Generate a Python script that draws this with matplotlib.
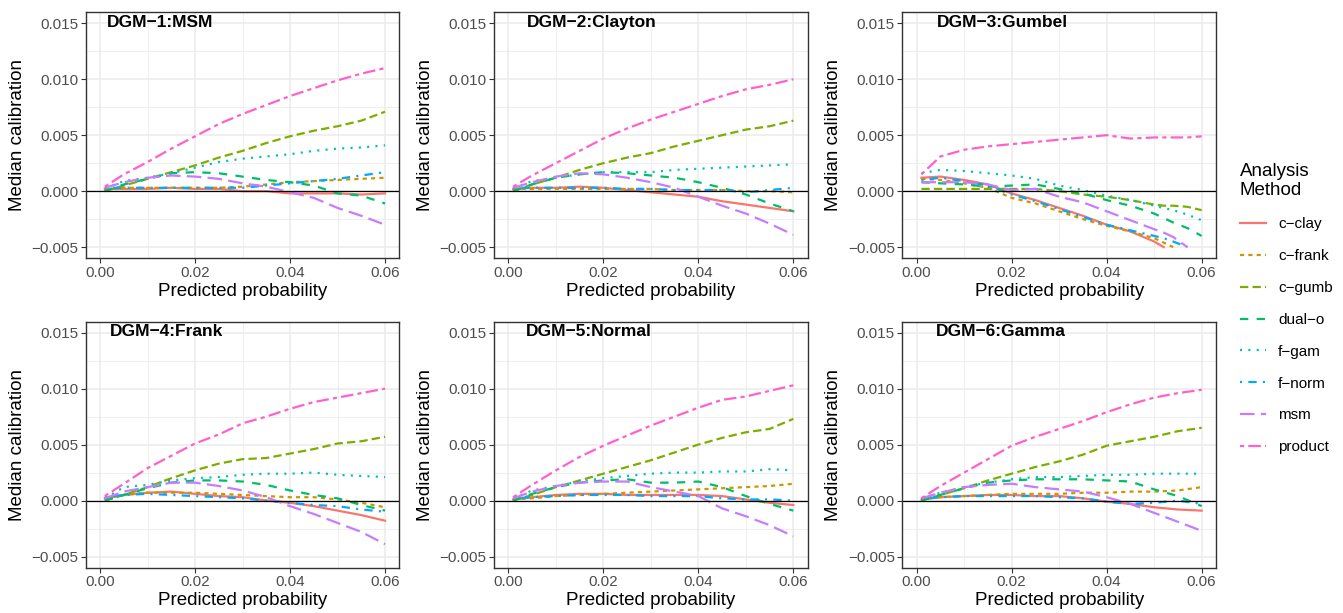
import numpy as np
import matplotlib.pyplot as plt
from matplotlib.lines import Line2D

plt.rcParams['font.family'] = ['Liberation Sans', 'DejaVu Sans']
plt.rcParams['lines.scale_dashes'] = False

methods = ['c-clay', 'c-frank', 'c-gumb', 'dual-o', 'f-gam', 'f-norm', 'msm', 'product']
colors = ['#F8766D', '#CD9600', '#7CAE00', '#00BE67', '#00BFC4', '#00A9FF', '#C77CFF', '#FF61CC']
# ggplot default linetypes: solid, 22, 42, 44, 13, 1343, 73, 2262
linetypes = [None, (2, 2), (4, 2), (4, 4), (1, 3), (1, 3, 4, 3), (7, 3), (2, 2, 6, 2)]

titles = ['DGM\u22121:MSM', 'DGM\u22122:Clayton', 'DGM\u22123:Gumbel',
          'DGM\u22124:Frank', 'DGM\u22125:Normal', 'DGM\u22126:Gamma']

x = [0.001, 0.005, 0.01, 0.015, 0.02, 0.025, 0.03, 0.035, 0.04, 0.045, 0.05, 0.055, 0.06]
x_gumbel = [0.001, 0.005, 0.01, 0.015, 0.02, 0.025, 0.03, 0.035, 0.04, 0.045, 0.05, 0.052, 0.054, 0.057, 0.06]
nan = np.nan

dgm1 = {
    'c-clay':  [0.0002, 0.0002, 0.0002, 0.0003, 0.0002, 0.0002, 0.0000, 0.0000, -0.0002, -0.0002, -0.0002, -0.0003, -0.0002],
    'c-frank': [0.0001, 0.0003, 0.0003, 0.0003, 0.0003, 0.0003, 0.0004, 0.0006, 0.0008, 0.0009, 0.0010, 0.0011, 0.0012],
    'c-gumb':  [0.0000, 0.0005, 0.0011, 0.0017, 0.0023, 0.0030, 0.0036, 0.0043, 0.0049, 0.0054, 0.0058, 0.0063, 0.0071],
    'dual-o':  [0.0000, 0.0006, 0.0011, 0.0016, 0.0017, 0.0016, 0.0013, 0.0010, 0.0008, 0.0005, -0.0002, -0.0004, -0.0011],
    'f-gam':   [0.0002, 0.0009, 0.0012, 0.0016, 0.0021, 0.0026, 0.0029, 0.0031, 0.0033, 0.0036, 0.0038, 0.0039, 0.0041],
    'f-norm':  [0.0003, 0.0003, 0.0003, 0.0003, 0.0003, 0.0003, 0.0003, 0.0005, 0.0007, 0.0009, 0.0011, 0.0014, 0.0017],
    'msm':     [0.0003, 0.0008, 0.0012, 0.0014, 0.0013, 0.0011, 0.0007, 0.0004, -0.0001, -0.0006, -0.0015, -0.0022, -0.0030],
    'product': [0.0004, 0.0015, 0.0026, 0.0038, 0.0049, 0.0060, 0.0069, 0.0077, 0.0085, 0.0092, 0.0099, 0.0105, 0.0110],
}
dgm2 = {
    'c-clay':  [0.0002, 0.0003, 0.0003, 0.0004, 0.0003, 0.0001, -0.0001, -0.0003, -0.0005, -0.0009, -0.0012, -0.0015, -0.0018],
    'c-frank': [0.0002, 0.0002, 0.0002, 0.0002, 0.0002, 0.0002, 0.0002, 0.0001, 0.0001, 0.0001, 0.0000, 0.0000, -0.0001],
    'c-gumb':  [0.0000, 0.0006, 0.0012, 0.0019, 0.0025, 0.0030, 0.0034, 0.0040, 0.0045, 0.0050, 0.0055, 0.0058, 0.0063],
    'dual-o':  [0.0000, 0.0006, 0.0012, 0.0015, 0.0017, 0.0016, 0.0014, 0.0012, 0.0008, 0.0003, -0.0003, -0.0011, -0.0018],
    'f-gam':   [0.0002, 0.0009, 0.0012, 0.0015, 0.0017, 0.0017, 0.0017, 0.0019, 0.0020, 0.0021, 0.0022, 0.0023, 0.0024],
    'f-norm':  [0.0003, 0.0003, 0.0003, 0.0003, 0.0003, 0.0002, 0.0002, 0.0001, 0.0001, 0.0001, -0.0001, 0.0001, 0.0003],
    'msm':     [0.0003, 0.0008, 0.0013, 0.0016, 0.0015, 0.0012, 0.0008, 0.0003, -0.0005, -0.0013, -0.0020, -0.0029, -0.0039],
    'product': [0.0004, 0.0014, 0.0025, 0.0036, 0.0047, 0.0056, 0.0064, 0.0071, 0.0078, 0.0085, 0.0091, 0.0095, 0.0100],
}
dgm3 = {
    'c-clay':  [0.0012, 0.0013, 0.0010, 0.0006, -0.0002, -0.0008, -0.0015, -0.0022, -0.0030, -0.0036, -0.0045, -0.0050, nan, nan, nan],
    'c-frank': [0.0011, 0.0010, 0.0007, 0.0003, -0.0006, -0.0011, -0.0018, -0.0025, -0.0031, -0.0036, -0.0042, -0.0046, -0.0050, nan, nan],
    'c-gumb':  [0.0002, 0.0002, 0.0002, 0.0002, 0.0002, 0.0002, 0.0000, -0.0003, -0.0005, -0.0008, -0.0012, -0.0013, -0.0013, -0.0014, -0.0017],
    'dual-o':  [0.0008, 0.0007, 0.0006, 0.0004, 0.0005, 0.0006, 0.0002, -0.0002, -0.0008, -0.0013, -0.0020, -0.0024, -0.0028, -0.0033, -0.0040],
    'f-gam':   [0.0016, 0.0019, 0.0018, 0.0016, 0.0014, 0.0011, 0.0005, 0.0001, -0.0004, -0.0008, -0.0013, -0.0015, -0.0017, -0.0021, -0.0026],
    'f-norm':  [0.0010, 0.0012, 0.0009, 0.0005, -0.0003, -0.0009, -0.0016, -0.0023, -0.0030, -0.0035, -0.0040, -0.0042, -0.0045, -0.0050, nan],
    'msm':     [0.0008, 0.0008, 0.0008, 0.0006, 0.0001, 0.0002, -0.0005, -0.0010, -0.0018, -0.0026, -0.0034, -0.0037, -0.0041, -0.0050, nan],
    'product': [0.0015, 0.0031, 0.0037, 0.0040, 0.0042, 0.0044, 0.0046, 0.0048, 0.0050, 0.0047, 0.0048, 0.0048, 0.0048, 0.0048, 0.0049],
}
dgm4 = {
    'c-clay':  [0.0002, 0.0005, 0.0007, 0.0008, 0.0006, 0.0004, 0.0003, 0.0000, -0.0002, -0.0005, -0.0009, -0.0013, -0.0018],
    'c-frank': [0.0002, 0.0005, 0.0007, 0.0007, 0.0007, 0.0006, 0.0005, 0.0004, 0.0003, 0.0003, 0.0001, -0.0002, -0.0006],
    'c-gumb':  [0.0000, 0.0005, 0.0012, 0.0020, 0.0027, 0.0033, 0.0037, 0.0038, 0.0042, 0.0046, 0.0051, 0.0053, 0.0057],
    'dual-o':  [0.0000, 0.0005, 0.0011, 0.0016, 0.0018, 0.0018, 0.0017, 0.0014, 0.0009, 0.0005, 0.0002, -0.0004, -0.0009],
    'f-gam':   [0.0002, 0.0012, 0.0014, 0.0018, 0.0020, 0.0021, 0.0023, 0.0024, 0.0024, 0.0025, 0.0023, 0.0022, 0.0021],
    'f-norm':  [0.0003, 0.0005, 0.0006, 0.0005, 0.0004, 0.0003, 0.0002, 0.0000, -0.0002, -0.0004, -0.0005, -0.0008, -0.0010],
    'msm':     [0.0002, 0.0008, 0.0012, 0.0016, 0.0016, 0.0013, 0.0009, 0.0003, -0.0005, -0.0012, -0.0020, -0.0028, -0.0039],
    'product': [0.0004, 0.0015, 0.0029, 0.0040, 0.0051, 0.0059, 0.0069, 0.0075, 0.0082, 0.0088, 0.0092, 0.0096, 0.0100],
}
dgm5 = {
    'c-clay':  [0.0001, 0.0003, 0.0005, 0.0006, 0.0006, 0.0005, 0.0005, 0.0005, 0.0005, 0.0004, 0.0001, -0.0002, -0.0004],
    'c-frank': [0.0001, 0.0002, 0.0004, 0.0005, 0.0006, 0.0007, 0.0008, 0.0009, 0.0010, 0.0011, 0.0012, 0.0013, 0.0015],
    'c-gumb':  [0.0000, 0.0005, 0.0012, 0.0018, 0.0024, 0.0030, 0.0036, 0.0043, 0.0050, 0.0056, 0.0061, 0.0064, 0.0073],
    'dual-o':  [0.0000, 0.0006, 0.0012, 0.0016, 0.0018, 0.0019, 0.0016, 0.0016, 0.0017, 0.0012, 0.0004, -0.0003, -0.0009],
    'f-gam':   [0.0002, 0.0009, 0.0013, 0.0017, 0.0020, 0.0022, 0.0024, 0.0025, 0.0025, 0.0026, 0.0026, 0.0028, 0.0027],
    'f-norm':  [0.0002, 0.0003, 0.0004, 0.0005, 0.0005, 0.0005, 0.0004, 0.0004, 0.0004, 0.0002, 0.0001, 0.0001, 0.0000],
    'msm':     [0.0002, 0.0008, 0.0013, 0.0016, 0.0017, 0.0017, 0.0012, 0.0008, 0.0004, -0.0007, -0.0014, -0.0022, -0.0032],
    'product': [0.0003, 0.0014, 0.0027, 0.0039, 0.0049, 0.0058, 0.0067, 0.0075, 0.0083, 0.0090, 0.0093, 0.0098, 0.0103],
}
dgm6 = {
    'c-clay':  [0.0001, 0.0003, 0.0004, 0.0005, 0.0005, 0.0004, 0.0004, 0.0002, -0.0001, -0.0003, -0.0006, -0.0008, -0.0009],
    'c-frank': [0.0001, 0.0003, 0.0004, 0.0005, 0.0006, 0.0006, 0.0006, 0.0007, 0.0007, 0.0008, 0.0008, 0.0009, 0.0012],
    'c-gumb':  [0.0000, 0.0005, 0.0011, 0.0018, 0.0024, 0.0030, 0.0035, 0.0041, 0.0049, 0.0053, 0.0057, 0.0062, 0.0065],
    'dual-o':  [0.0000, 0.0005, 0.0011, 0.0016, 0.0018, 0.0019, 0.0019, 0.0019, 0.0018, 0.0017, 0.0010, 0.0004, -0.0005],
    'f-gam':   [0.0002, 0.0007, 0.0012, 0.0016, 0.0019, 0.0021, 0.0021, 0.0022, 0.0023, 0.0023, 0.0024, 0.0024, 0.0024],
    'f-norm':  [0.0002, 0.0003, 0.0004, 0.0004, 0.0004, 0.0004, 0.0003, 0.0002, -0.0001, -0.0003, -0.0002, 0.0000, -0.0003],
    'msm':     [0.0002, 0.0007, 0.0012, 0.0014, 0.0015, 0.0012, 0.0010, 0.0008, 0.0003, -0.0003, -0.0011, -0.0019, -0.0027],
    'product': [0.0002, 0.0013, 0.0025, 0.0037, 0.0049, 0.0057, 0.0064, 0.0071, 0.0079, 0.0086, 0.0092, 0.0096, 0.0099],
}

panels = [(x, dgm1), (x, dgm2), (x_gumbel, dgm3), (x, dgm4), (x, dgm5), (x, dgm6)]
title_offsets = [0.067, 0.105, 0.111, 0.077, 0.102, 0.108]

W, H = 1343, 613
fig = plt.figure(figsize=(W / 100, H / 100), dpi=100)

lefts = [85.8, 494.1, 902.4]
tops = [12.1, 321.5]
pw, ph = 313.5, 246.2

unit = 1.5
lw = 1.6


def style_for(i):
    if linetypes[i] is None:
        return dict(linestyle='-')
    return dict(dashes=[d * unit for d in linetypes[i]])


for k, (xs, data) in enumerate(panels):
    r, c = divmod(k, 3)
    ax = fig.add_axes([lefts[c] / W, 1 - (tops[r] + ph) / H, pw / W, ph / H])
    for i, m in enumerate(methods):
        ax.plot(xs, data[m], color=colors[i], lw=lw, **style_for(i))
    ax.axhline(0, color='black', lw=0.9)
    ax.set_xlim(-0.003, 0.063)
    ax.set_ylim(-0.006, 0.016)
    ax.set_xticks([0, 0.02, 0.04, 0.06])
    ax.set_xticklabels(['0.00', '0.02', '0.04', '0.06'])
    ax.set_xticks([0.01, 0.03, 0.05], minor=True)
    ax.set_yticks([-0.005, 0, 0.005, 0.01, 0.015])
    ax.set_yticklabels(['\u22120.005', '0.000', '0.005', '0.010', '0.015'])
    ax.set_yticks([-0.0025, 0.0025, 0.0075, 0.0125], minor=True)
    ax.grid(which='major', color='#EBEBEB', lw=1.1)
    ax.grid(which='minor', color='#EBEBEB', lw=0.55)
    ax.set_axisbelow(True)
    ax.tick_params(which='major', length=3.5, width=0.8, color='#333333',
                   labelcolor='#4D4D4D', labelsize=11, pad=2)
    ax.tick_params(which='minor', length=0)
    for s in ax.spines.values():
        s.set_color('#333333')
        s.set_linewidth(1.0)
    ax.set_xlabel('Predicted probability', fontsize=13.5, labelpad=2)
    ax.set_ylabel('Median calibration', fontsize=13.5, labelpad=4)
    ax.text(title_offsets[k], 0.99, titles[k], transform=ax.transAxes,
            fontsize=12.5, fontweight='bold', ha='left', va='top')

handles = [Line2D([], [], color=colors[i], lw=lw, **style_for(i)) for i in range(len(methods))]
labels = [m.replace('-', '\u2212') for m in methods]
leg = fig.legend(handles, labels, title='Analysis\nMethod', loc='upper left',
                 bbox_to_anchor=(1226 / W, 1 - 149 / H), frameon=False,
                 fontsize=11, title_fontsize=13.5, alignment='left',
                 handlelength=1.7, handletextpad=0.8, labelspacing=1.17)

fig.savefig('out.png', dpi=100)
